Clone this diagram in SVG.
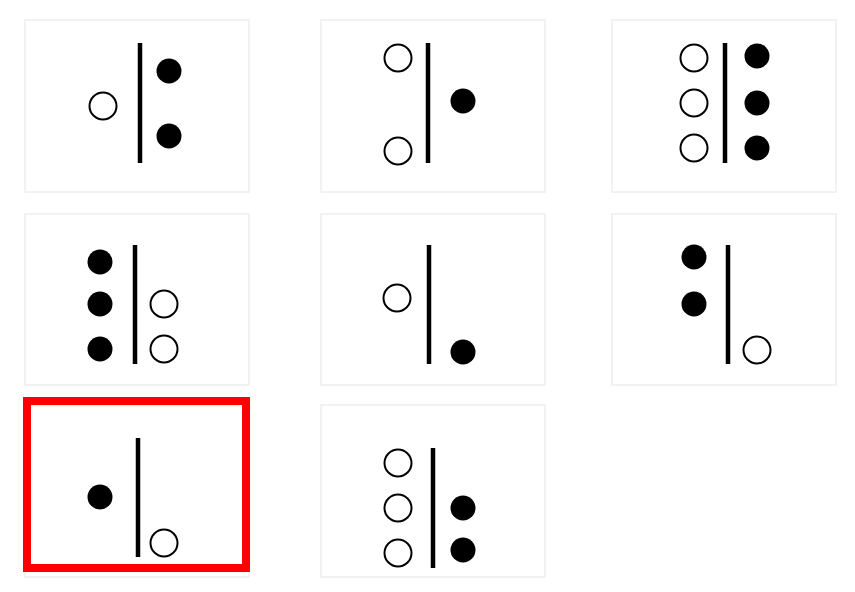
<svg xmlns="http://www.w3.org/2000/svg" width="855" height="592" viewBox="0 0 855 592">
<style>
.panel{fill:#fff;stroke:#eeeeee;stroke-width:1.5}
.bar{stroke:#000;stroke-width:4.5}
.o{fill:#fff;stroke:#000;stroke-width:2}
.f{fill:#000}
.sel{fill:none;stroke:#ff0000;stroke-width:8}
</style>
<rect width="855" height="592" fill="#fff"/>
<g id="panel1">
<rect class="panel" x="25" y="20" width="224" height="172"/>
<line class="bar" x1="140" y1="43" x2="140" y2="163"/>
<circle class="o" cx="103" cy="106" r="13.5"/>
<circle class="f" cx="169" cy="71" r="12.5"/>
<circle class="f" cx="169" cy="136" r="12.5"/>
</g>
<g id="panel2">
<rect class="panel" x="321" y="20" width="224" height="172"/>
<line class="bar" x1="428" y1="43" x2="428" y2="163"/>
<circle class="o" cx="398" cy="58" r="13.5"/>
<circle class="o" cx="398" cy="151" r="13.5"/>
<circle class="f" cx="463" cy="101" r="12.5"/>
</g>
<g id="panel3">
<rect class="panel" x="612" y="20" width="224" height="172"/>
<line class="bar" x1="725" y1="43" x2="725" y2="163"/>
<circle class="o" cx="694" cy="58" r="13.5"/>
<circle class="o" cx="694" cy="103" r="13.5"/>
<circle class="o" cx="694" cy="148" r="13.5"/>
<circle class="f" cx="757" cy="56" r="12.5"/>
<circle class="f" cx="757" cy="103" r="12.5"/>
<circle class="f" cx="757" cy="148" r="12.5"/>
</g>
<g id="panel4">
<rect class="panel" x="25" y="214" width="224" height="171"/>
<line class="bar" x1="135" y1="245" x2="135" y2="364"/>
<circle class="f" cx="100" cy="262" r="12.5"/>
<circle class="f" cx="100" cy="304" r="12.5"/>
<circle class="f" cx="100" cy="349" r="12.5"/>
<circle class="o" cx="164" cy="304" r="13.5"/>
<circle class="o" cx="164" cy="349" r="13.5"/>
</g>
<g id="panel5">
<rect class="panel" x="321" y="214" width="224" height="171"/>
<line class="bar" x1="429" y1="245" x2="429" y2="364"/>
<circle class="o" cx="397" cy="298" r="13.5"/>
<circle class="f" cx="463" cy="352" r="12.5"/>
</g>
<g id="panel6">
<rect class="panel" x="612" y="214" width="224" height="171"/>
<line class="bar" x1="728" y1="245" x2="728" y2="364"/>
<circle class="f" cx="694" cy="257" r="12.5"/>
<circle class="f" cx="694" cy="304" r="12.5"/>
<circle class="o" cx="757" cy="350" r="13.5"/>
</g>
<g id="panel7">
<rect class="panel" x="25" y="405" width="224" height="172"/>
<rect class="sel" x="27" y="401" width="219" height="167"/>
<line class="bar" x1="138" y1="438" x2="138" y2="557"/>
<circle class="f" cx="100" cy="497" r="12.5"/>
<circle class="o" cx="164" cy="543" r="13.5"/>
</g>
<g id="panel8">
<rect class="panel" x="321" y="405" width="224" height="172"/>
<line class="bar" x1="433" y1="448" x2="433" y2="568"/>
<circle class="o" cx="398" cy="463" r="13.5"/>
<circle class="o" cx="398" cy="508" r="13.5"/>
<circle class="o" cx="398" cy="553" r="13.5"/>
<circle class="f" cx="463" cy="508" r="12.5"/>
<circle class="f" cx="463" cy="550" r="12.5"/>
</g>
<g id="connectors"></g>
</svg>
